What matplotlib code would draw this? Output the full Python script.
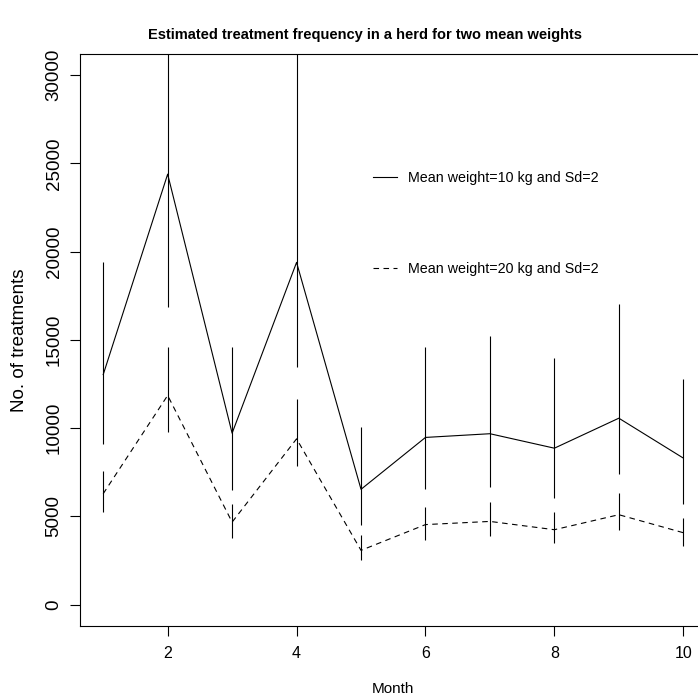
import matplotlib
matplotlib.use("Agg")
import matplotlib.pyplot as plt

plt.rcParams['font.family'] = ['Liberation Sans', 'DejaVu Sans']

months = [1, 2, 3, 4, 5, 6, 7, 8, 9, 10]

# mean weight 10 kg
w10_mean = [13030, 24390, 9710, 19390, 6530, 9470, 9680, 8860, 10560, 8300]
w10_low = [9070, 16840, 6510, 13450, 4490, 6560, 6660, 6030, 7380, 5680]
w10_high = [19390, 37000, 14580, 32500, 10050, 14580, 15240, 13960, 17030, 12790]

# mean weight 20 kg
w20_mean = [6280, 11850, 4670, 9390, 3070, 4530, 4710, 4240, 5090, 4070]
w20_low = [5240, 9770, 3790, 7840, 2510, 3680, 3870, 3490, 4200, 3320]
w20_high = [7560, 14580, 5720, 11660, 3920, 5520, 5810, 5240, 6340, 4920]

xticks = [2, 4, 6, 8, 10]
yticks = [0, 5000, 10000, 15000, 20000, 25000, 30000]

W, H = 698, 695
fig = plt.figure(figsize=(W / 100, H / 100), dpi=100)
ax = fig.add_axes([80 / W, 1 - 625.7 / H, (706.5 - 80) / W, (625.7 - 54) / H])

lw = 0.8
ax.plot(months, w10_mean, color='black', lw=lw, label='Mean weight=10 kg and Sd=2')
ax.plot(months, w20_mean, color='black', lw=lw, linestyle=(0, (5, 4)),
        label='Mean weight=20 kg and Sd=2')
ax.vlines(months, w10_low, w10_high, color='black', lw=lw)
ax.vlines(months, w20_low, w20_high, color='black', lw=lw)

ax.set_xlim(0.64, 10.36)
ax.set_ylim(-1200, 31200)
ax.set_xticks(xticks)
ax.set_yticks(yticks)
ax.set_xticklabels([str(t) for t in xticks], fontsize=11.5)
ax.set_yticklabels([str(t) for t in yticks], fontsize=13.5, rotation=90, va='center')
ax.tick_params(axis='x', length=7, width=0.8, pad=7.5)
ax.tick_params(axis='y', length=7, width=0.8, pad=5.5)
for s in ax.spines.values():
    s.set_linewidth(0.8)

ax.set_xlabel('Month', fontsize=11, labelpad=15)
fig.text(20 / W, 1 - 340 / H, 'No. of treatments', rotation=90, fontsize=13.5,
         ha='center', va='center')
fig.text(365 / W, 1 - 35 / H, 'Estimated treatment frequency in a herd for two mean weights',
         fontsize=10.5, fontweight='bold', ha='center', va='center')

ax.legend(loc='upper left', bbox_to_anchor=(373 / W, 1 - 171.4 / H),
          bbox_transform=fig.transFigure, frameon=False, fontsize=10.3,
          handlelength=1.68, handletextpad=0.77, labelspacing=5.37,
          borderpad=0, borderaxespad=0)

fig.savefig('out.png', dpi=100)
